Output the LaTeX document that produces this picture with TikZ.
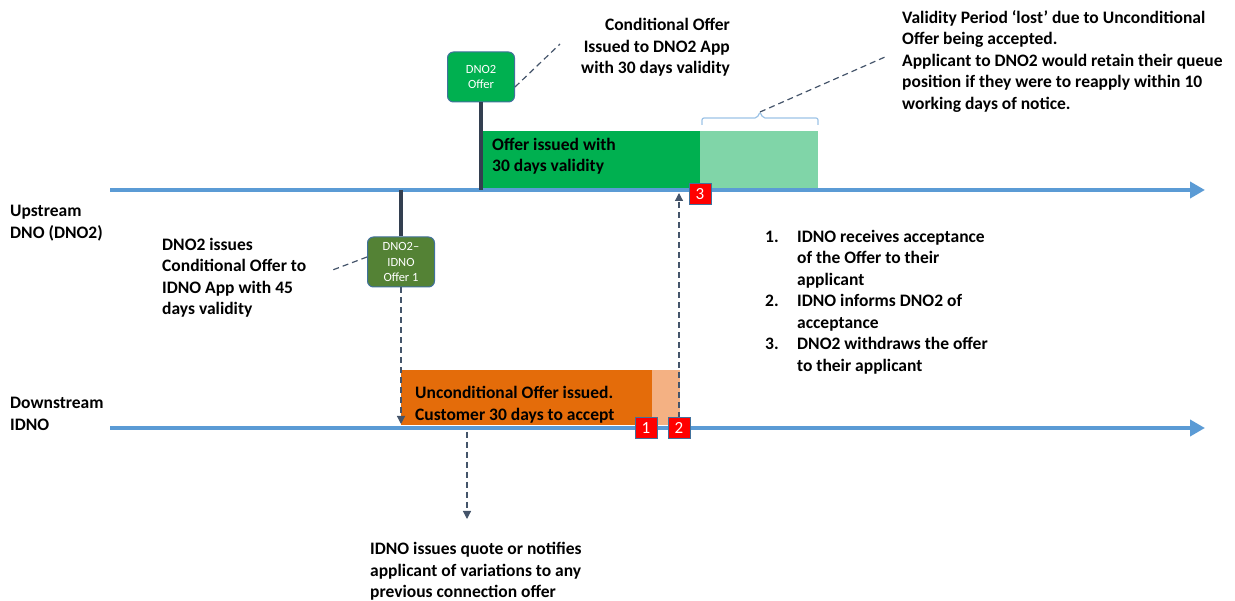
\documentclass[tikz,border=0pt]{standalone}
\usepackage{fontspec}
\setmainfont{Carlito}
\usetikzlibrary{arrows.meta}
\definecolor{tlblue}{HTML}{5B9BD5}
\definecolor{darkln}{HTML}{333F50}
\definecolor{dashc}{HTML}{44546A}
\definecolor{offgreen}{HTML}{00B050}
\definecolor{litegreen}{HTML}{80D5A8}
\definecolor{olive}{HTML}{548235}
\definecolor{nodeborder}{HTML}{41719C}
\definecolor{orangebar}{HTML}{E46C0A}
\definecolor{liteorange}{HTML}{F4B183}
\definecolor{bracec}{HTML}{9DC3E6}
\tikzset{
  timeline/.style={draw=tlblue, line width=4pt, -{Triangle[length=15pt,width=16pt]}},
  stem/.style={draw=darkln, line width=3.5pt},
  leader/.style={draw=dashc, line width=1.2pt, dash pattern=on 6pt off 4pt},
  darrow/.style={draw=dashc, line width=1.2pt, dash pattern=on 6pt off 4pt, -{Triangle[length=8pt,width=8pt]}},
  evbox/.style={draw=nodeborder, line width=1pt, rounded corners=6pt, minimum width=67pt, minimum height=50pt, text=white, font=\fontsize{12.5}{15.5}\selectfont, align=center, inner sep=1pt},
  lbl/.style={font=\fontsize{17.5}{21.5}\selectfont\bfseries, inner sep=0pt, align=left, text=black},
  numsq/.style={draw=nodeborder, line width=1pt, fill=red, text=white, minimum width=22pt, minimum height=21pt, inner sep=0pt, font=\fontsize{17}{17}\selectfont}
}
\begin{document}
\begin{tikzpicture}[x=1pt,y=-1pt]
\useasboundingbox (0,0) rectangle (1235,601);

% bars
\fill[offgreen] (483,131) rectangle (700,188);
\fill[litegreen] (700,131) rectangle (818,188);
\fill[orangebar] (401,370) rectangle (652,425);
\fill[liteorange] (652,370) rectangle (680,425);

% timelines
\coordinate (upS) at (110,190);
\coordinate (upE) at (1205,190);
\coordinate (dnS) at (110,428);
\coordinate (dnE) at (1205,428);
\draw[timeline] (upS) -- (upE);
\draw[timeline] (dnS) -- (dnE);

\node[lbl, anchor=north west] (uplbl) at (10,205) {Upstream\\DNO (DNO2)};
\node[lbl, anchor=north west] (dnlbl) at (10,397) {Downstream\\IDNO};

% bar texts
\node[lbl, anchor=north west] (offtxt) at (492,138) {Offer issued with\\30 days validity};
\node[lbl, anchor=north west] (uncond) at (415,386) {Unconditional Offer issued.\\Customer 30 days to accept};

% DNO2 offer node
\node[evbox, fill=offgreen] (dno2off) at (481,77) {DNO2\\Offer};
\coordinate (stem1) at (481,190);
\draw[stem] (dno2off.south) -- (stem1);

% DNO2-IDNO node
\node[evbox, fill=olive] (idnooff) at (401,262) {DNO2–\\IDNO\\Offer 1};
\coordinate (stem2) at (401,190);
\draw[stem] (stem2) -- (idnooff.north);

% texts
\node[lbl, anchor=north east, align=right] (condtxt) at (730,18) {Conditional Offer\\Issued to DNO2 App\\with 30 days validity};
\node[lbl, anchor=north west] (lost) at (902,10) {Validity Period ‘lost’ due to Unconditional\\Offer being accepted.\\Applicant to DNO2 would retain their queue\\position if they were to reapply within 10\\working days of notice.};
\node[lbl, anchor=north west] (idnotxt) at (162,238) {DNO2 issues\\Conditional Offer to\\IDNO App with 45\\days validity};
\node[lbl, anchor=north west] (list) at (765,230) {\makebox[32pt][l]{1.}IDNO receives acceptance\\\hspace*{32pt}of the Offer to their\\\hspace*{32pt}applicant\\\makebox[32pt][l]{2.}IDNO informs DNO2 of\\\hspace*{32pt}acceptance\\\makebox[32pt][l]{3.}DNO2 withdraws the offer\\\hspace*{32pt}to their applicant};
\node[lbl, anchor=north west] (quote) at (370,542) {IDNO issues quote or notifies\\applicant of variations to any\\previous connection offer};

% leaders
\coordinate (c1) at (560,44);
\draw[leader] (dno2off.east) ++(0,10) -- (c1);
\coordinate (c2) at (330,271);
\draw[leader] (idnooff.west) ++(0,-5) -- (c2);

% brace
\coordinate (brL) at (702,125);
\coordinate (brR) at (818,125);
\coordinate (brM) at (760,112);
\draw[bracec, line width=1.2pt, rounded corners=2pt] (brL) -- (702,118) -- (757,118) -- (brM) -- (763,118) -- (818,118) -- (brR);
\coordinate (c3) at (885,57);
\draw[leader] (brM) -- (c3);

% dashed arrows
\coordinate (a1e) at (401,424);
\draw[darrow] (idnooff.south) -- (a1e);
\coordinate (a2s) at (467,432);
\coordinate (a2e) at (467,519);
\draw[darrow] (a2s) -- (a2e);
\coordinate (a3s) at (679,418);
\coordinate (a3e) at (679,193);
\draw[darrow] (a3s) -- (a3e);

% number squares
\node[numsq] (n1) at (646,428) {1};
\node[numsq] (n2) at (679,428) {2};
\node[numsq] (n3) at (700,194) {3};
\end{tikzpicture}
\end{document}
